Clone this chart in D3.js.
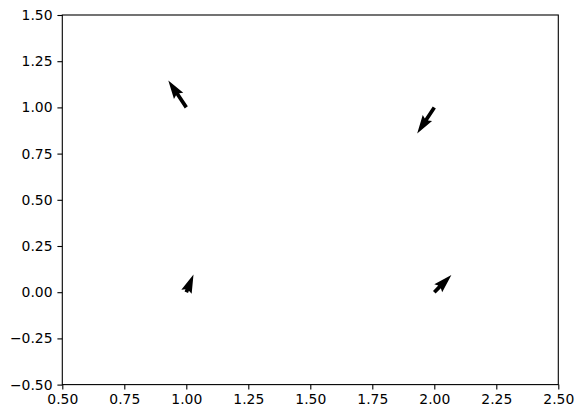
<html>
<head>
<meta charset="utf-8">
<script src="https://d3js.org/d3.v7.min.js"></script>
<style>
  body { margin: 0; background: #fff; }
  text { font-family: "DejaVu Sans", sans-serif; font-size: 13.9px; fill: #000; }
</style>
</head>
<body>
<script>
// quiver data: positions and vector components
var X = [1, 2, 1, 2]
var Y = [1, 1, 0, 0]
var U = [-0.60, -0.57, 0.24, 0.57]
var V = [0.90, -0.87, 0.59, 0.57]
var xTicks = [0.5, 0.75, 1.0, 1.25, 1.5, 1.75, 2.0, 2.25, 2.5]
var yTicks = [-0.5, -0.25, 0, 0.25, 0.5, 0.75, 1.0, 1.25, 1.5]

var W = 583, H = 418
var axLeft = 62.3, axRight = 558.3, axTop = 15, axBottom = 384.6
var pxPerUnit = 30   // arrow length scale (pixels per vector unit)

var svg = d3.select("body").append("svg")
  .attr("width", W)
  .attr("height", H)

var x = d3.scaleLinear().domain([0.5, 2.5]).range([axLeft, axRight])
var y = d3.scaleLinear().domain([-0.5, 1.5]).range([axBottom, axTop])

var fmt = function(d) { return d3.format(".2f")(d).replace("-", "\u2212") }

// arrows, shaped like matplotlib quiver defaults
var aw = 0.06 * (axRight - axLeft) / 8   // shaft width
var hw = 3, hl = 5, hal = 4.5
function arrowPath(L) {
  var minsh = hl
  var pts
  if (L / aw >= minsh) {
    var l = L / aw
    pts = [[0, 0.5], [l - hal, 0.5], [l - hl, hw / 2], [l, 0], [l - hl, -hw / 2], [l - hal, -0.5], [0, -0.5]]
  } else {
    var s = (L / aw) / minsh
    pts = [[minsh - hal, 0.5], [minsh - hl, hw / 2], [minsh, 0], [minsh - hl, -hw / 2], [minsh - hal, -0.5]]
      .map(function(p) { return [p[0] * s, p[1] * s] })
    pts = [[0, 0.5 * s]].concat(pts).concat([[0, -0.5 * s]])
  }
  return "M" + pts.map(function(p) { return (p[0] * aw) + "," + (p[1] * aw) }).join("L") + "Z"
}

var data = X.map(function(d, i) { return {x: d, y: Y[i], u: U[i], v: V[i]} })

svg.append("g").selectAll("path")
  .data(data)
  .enter()
  .append("path")
    .attr("d", function(d) { return arrowPath(Math.hypot(d.u, d.v) * pxPerUnit) })
    .attr("fill", "#000")
    .attr("transform", function(d) {
      var ang = Math.atan2(-d.v, d.u) * 180 / Math.PI
      return "translate(" + x(d.x) + "," + y(d.y) + ") rotate(" + ang + ")"
    })

// axes
var xAxis = d3.axisBottom(x).tickValues(xTicks).tickFormat(fmt).tickSize(4.9).tickPadding(4.9)
var yAxis = d3.axisLeft(y).tickValues(yTicks).tickFormat(fmt).tickSize(4.9).tickPadding(4.9)

var gx = svg.append("g").attr("transform", "translate(0," + axBottom + ")").call(xAxis)
var gy = svg.append("g").attr("transform", "translate(" + axLeft + ",0)").call(yAxis)
;[gx, gy].forEach(function(g) {
  g.select(".domain").remove()
  g.selectAll("line").attr("stroke", "#000").attr("stroke-width", 1.1)
  g.selectAll("text").attr("font-family", "DejaVu Sans").attr("font-size", 13.9).attr("fill", "#000")
})

// frame
svg.append("rect")
  .attr("x", axLeft).attr("y", axTop)
  .attr("width", axRight - axLeft).attr("height", axBottom - axTop)
  .attr("fill", "none").attr("stroke", "#000").attr("stroke-width", 1.1)
</script>
</body>
</html>
